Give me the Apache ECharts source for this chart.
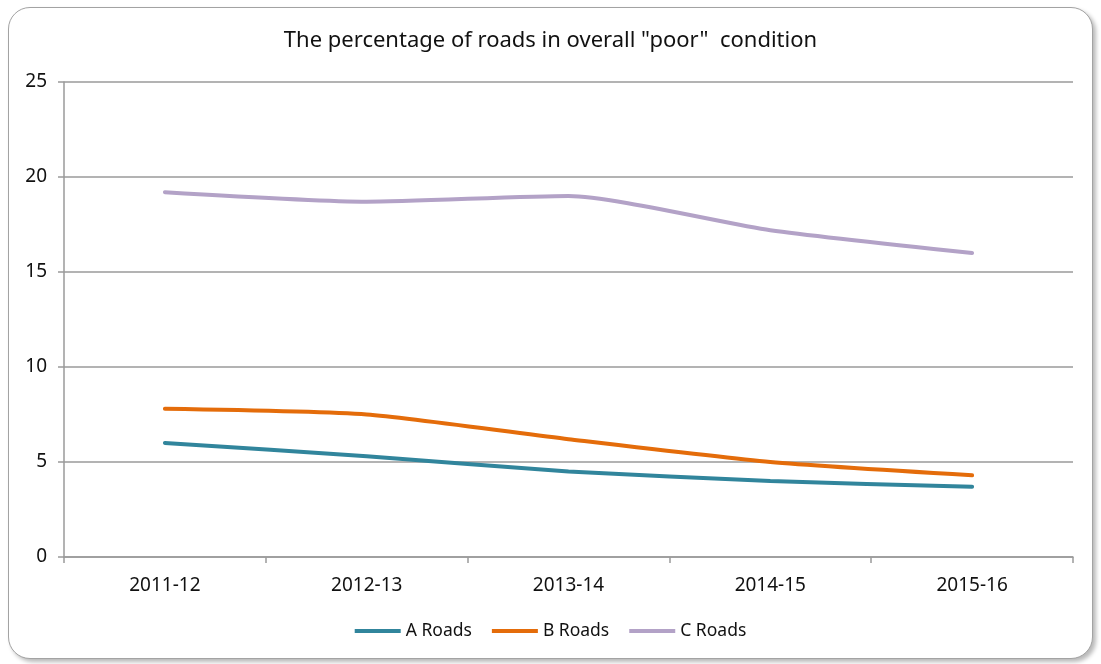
<!DOCTYPE html>
<html>
<head>
<meta charset="utf-8">
<script src="https://cdn.jsdelivr.net/npm/echarts@6/dist/echarts.min.js"></script>
<style>
  html, body { margin: 0; padding: 0; background: #ffffff; }
  #frame {
    position: absolute; left: 8px; top: 7px; width: 1083px; height: 650px;
    border: 1.5px solid #a3a3a3; border-radius: 22px;
    box-shadow: 3px 3px 4px rgba(0,0,0,0.28);
    background: #ffffff;
  }
  #chart { position: absolute; left: 0; top: 0; width: 1101px; height: 664px; }
</style>
</head>
<body>
<div id="frame"></div>
<div id="chart"></div>
<script>
// Survey years and the share of each road class rated "poor" (%)
const years = ['2011-12', '2012-13', '2013-14', '2014-15', '2015-16'];
const aRoads = [6.0, 5.3, 4.5, 4.0, 3.7];
const bRoads = [7.8, 7.5, 6.2, 5.0, 4.3];
const cRoads = [19.2, 18.7, 19.0, 17.2, 16.0];
const yTicks = { min: 0, max: 25, interval: 5 };

const FONT = 'Noto Sans';
const chart = echarts.init(document.getElementById('chart'), null, { renderer: 'canvas' });

function lineSeries(name, data, color) {
  return {
    name: name,
    type: 'line',
    data: data,
    smooth: 0.2,
    showSymbol: false,
    symbol: 'none',
    lineStyle: { color: color, width: 4, cap: 'round' },
    itemStyle: { color: color },
    emphasis: { disabled: true }
  };
}

chart.setOption({
  backgroundColor: 'transparent',
  animation: false,
  title: {
    text: 'The percentage of roads in overall "poor"  condition',
    left: 'center',
    top: 25,
    textStyle: { fontFamily: FONT, fontSize: 22, fontWeight: 'normal', color: '#111111' }
  },
  grid: { left: 64, right: 28, top: 82, bottom: 107 },
  xAxis: {
    type: 'category',
    data: years,
    boundaryGap: true,
    axisLine: { lineStyle: { color: '#9a9a9a', width: 1.5 } },
    axisTick: { show: true, length: 6, inside: false, lineStyle: { color: '#9a9a9a', width: 1.5 } },
    axisLabel: { margin: 19, fontFamily: FONT, fontSize: 19, color: '#111111' },
    splitLine: { show: false }
  },
  yAxis: {
    type: 'value',
    min: yTicks.min,
    max: yTicks.max,
    interval: yTicks.interval,
    axisLine: { show: true, lineStyle: { color: '#9a9a9a', width: 1.5 } },
    axisTick: { show: true, length: 6, lineStyle: { color: '#9a9a9a', width: 1.5 } },
    axisLabel: { margin: 17, fontFamily: FONT, fontSize: 19, color: '#111111' },
    splitLine: { show: true, lineStyle: { color: '#9a9a9a', width: 1.5 } }
  },
  legend: {
    bottom: 19,
    left: 'center',
    icon: 'rect',
    itemWidth: 46,
    itemHeight: 4,
    itemGap: 20,
    textStyle: { fontFamily: FONT, fontSize: 17.5, color: '#111111' },
    data: ['A Roads', 'B Roads', 'C Roads']
  },
  series: [
    lineSeries('A Roads', aRoads, '#31859c'),
    lineSeries('B Roads', bRoads, '#e46c0a'),
    lineSeries('C Roads', cRoads, '#b3a2c7')
  ]
});
</script>
</body>
</html>
